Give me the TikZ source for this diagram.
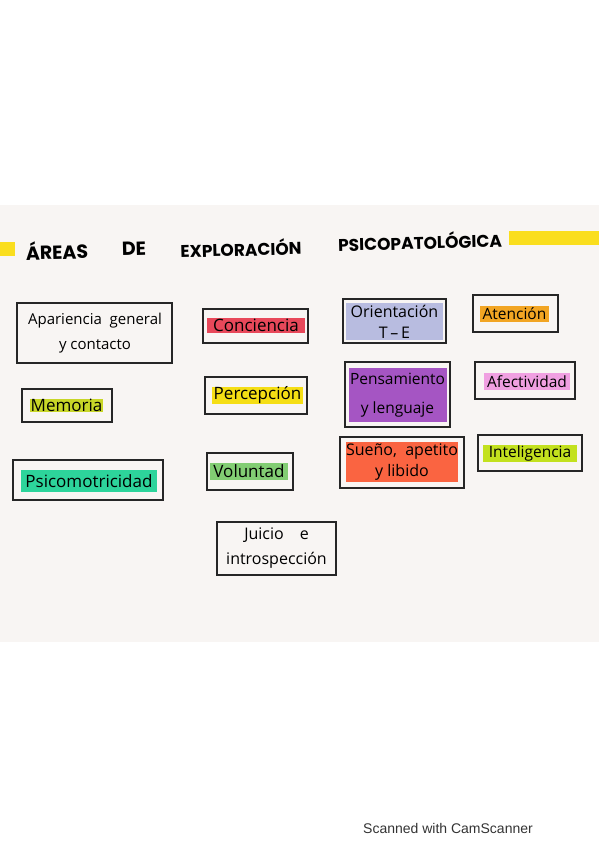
\documentclass[tikz,border=0pt]{standalone}
\usepackage{fontspec}
\setmainfont{Open Sans}
\newfontfamily\titulo{Poppins}
\newfontfamily\scan{Liberation Sans}
\usepackage{tikz}
\usetikzlibrary{calc}
\definecolor{papel}{RGB}{248,245,243}
\definecolor{amarillo}{RGB}{250,222,30}
\definecolor{rojo}{RGB}{232,72,90}
\definecolor{lavanda}{RGB}{184,188,224}
\definecolor{naranja}{RGB}{242,165,35}
\definecolor{oliva}{RGB}{200,214,40}
\definecolor{limon}{RGB}{245,222,20}
\definecolor{morado}{RGB}{165,85,195}
\definecolor{rosa}{RGB}{240,160,225}
\definecolor{turquesa}{RGB}{45,212,155}
\definecolor{verde}{RGB}{130,205,115}
\definecolor{coral}{RGB}{250,100,65}
\definecolor{lima}{RGB}{195,225,30}
\tikzset{caja/.style={draw=black!85, line width=1.3pt, inner sep=0pt}}
\tikzset{marca/.style={fill=#1, inner sep=0pt, align=center, font=\fontsize{17}{22}\selectfont}}
\tikzset{chica/.style={font=\fontsize{15.5}{21}\selectfont}}
\tikzset{t/.style={font=\titulo\bfseries\fontsize{17}{17}\selectfont, rotate=1.5, inner sep=0pt}}

\begin{document}
\begin{tikzpicture}[x=1pt, y=-1pt]
  \useasboundingbox (0,0) rectangle (599,848);
  \fill[papel] (0,205) rectangle (599,642);
  \fill[amarillo] (0,242) rectangle (15,256);
  \fill[amarillo] (509,231) rectangle (599,245);
  \node[t, font=\titulo\bfseries\fontsize{19}{19}\selectfont] (areas) at (57,250) {ÁREAS};
  \node[t, font=\titulo\bfseries\fontsize{19}{19}\selectfont] (de) at (134,249) {DE};
  \node[t] (exploracion) at (241,248) {EXPLORACIÓN};
  \node[t] (psico) at (420,241) {PSICOPATOLÓGICA};

  \node[caja, minimum width=155, minimum height=60] (apariencia) at (94.5,333) {};
  \node[marca=none, font=\fontsize{15}{25}\selectfont] (apariencia-txt) at (95,333) {Apariencia\ \ general\\y contacto};
  \node[caja, minimum width=105, minimum height=34] (conciencia) at (255.5,326) {};
  \node[marca=rojo, minimum width=98, minimum height=15] (conciencia-txt) at (256,325.5) {Conciencia};
  \node[caja, minimum width=103, minimum height=44] (orientacion) at (394.5,321) {};
  \node[marca=lavanda, minimum width=97, minimum height=37, font=\fontsize{16}{21}\selectfont] (orientacion-txt) at (394.5,321.5) {Orientación\\T\,--\,E};
  \node[caja, minimum width=85, minimum height=37] (atencion) at (515.5,313.5) {};
  \node[marca=naranja, chica, minimum width=69, minimum height=16] (atencion-txt) at (514.5,314) {Atención};

  \node[caja, minimum width=90, minimum height=33] (memoria) at (67,405.5) {};
  \node[marca=oliva, minimum width=73, minimum height=13] (memoria-txt) at (66.5,405.5) {Memoria};
  \node[caja, minimum width=102, minimum height=37] (percepcion) at (256,395.5) {};
  \node[marca=limon, minimum width=91, minimum height=15] (percepcion-txt) at (257.5,395.5) {Percepción};
  \node[caja, minimum width=105, minimum height=65] (pensamiento) at (397.5,394.5) {};
  \node[marca=morado, minimum width=98, minimum height=54, font=\fontsize{15.5}{29}\selectfont] (pensamiento-txt) at (397.5,395) {Pensamiento\\y lenguaje};
  \node[caja, minimum width=100, minimum height=37] (afectividad) at (525,380.5) {};
  \node[marca=rosa, chica, minimum width=86, minimum height=17] (afectividad-txt) at (527,381.5) {Afectividad};

  \node[caja, minimum width=150, minimum height=40] (psicomotricidad) at (88,480) {};
  \node[marca=turquesa, minimum width=136, minimum height=22] (psicomotricidad-txt) at (89,481) {Psicomotricidad};
  \node[caja, minimum width=86, minimum height=37] (voluntad) at (250,471.5) {};
  \node[marca=verde, minimum width=78, minimum height=17] (voluntad-txt) at (249,471.5) {Voluntad};
  \node[caja, minimum width=124, minimum height=51] (sueno) at (402,462.5) {};
  \node[marca=coral, minimum width=112, minimum height=40, font=\fontsize{16}{21}\selectfont] (sueno-txt) at (402,462) {Sueño,\ \ apetito\\y libido};
  \node[caja, minimum width=104, minimum height=36] (inteligencia) at (530,453) {};
  \node[marca=lima, chica, minimum width=94, minimum height=17] (inteligencia-txt) at (530,453.5) {Inteligencia};

  \node[caja, minimum width=119, minimum height=53] (juicio) at (276.5,548.5) {};
  \node[marca=none, font=\fontsize{16}{25}\selectfont] (juicio-txt) at (276.5,548.5) {Juicio\quad e\\introspección};

  \node[font=\scan\fontsize{14}{14}\selectfont, text=black!80] (scanner) at (448,828) {Scanned with CamScanner};
\end{tikzpicture}
\end{document}
